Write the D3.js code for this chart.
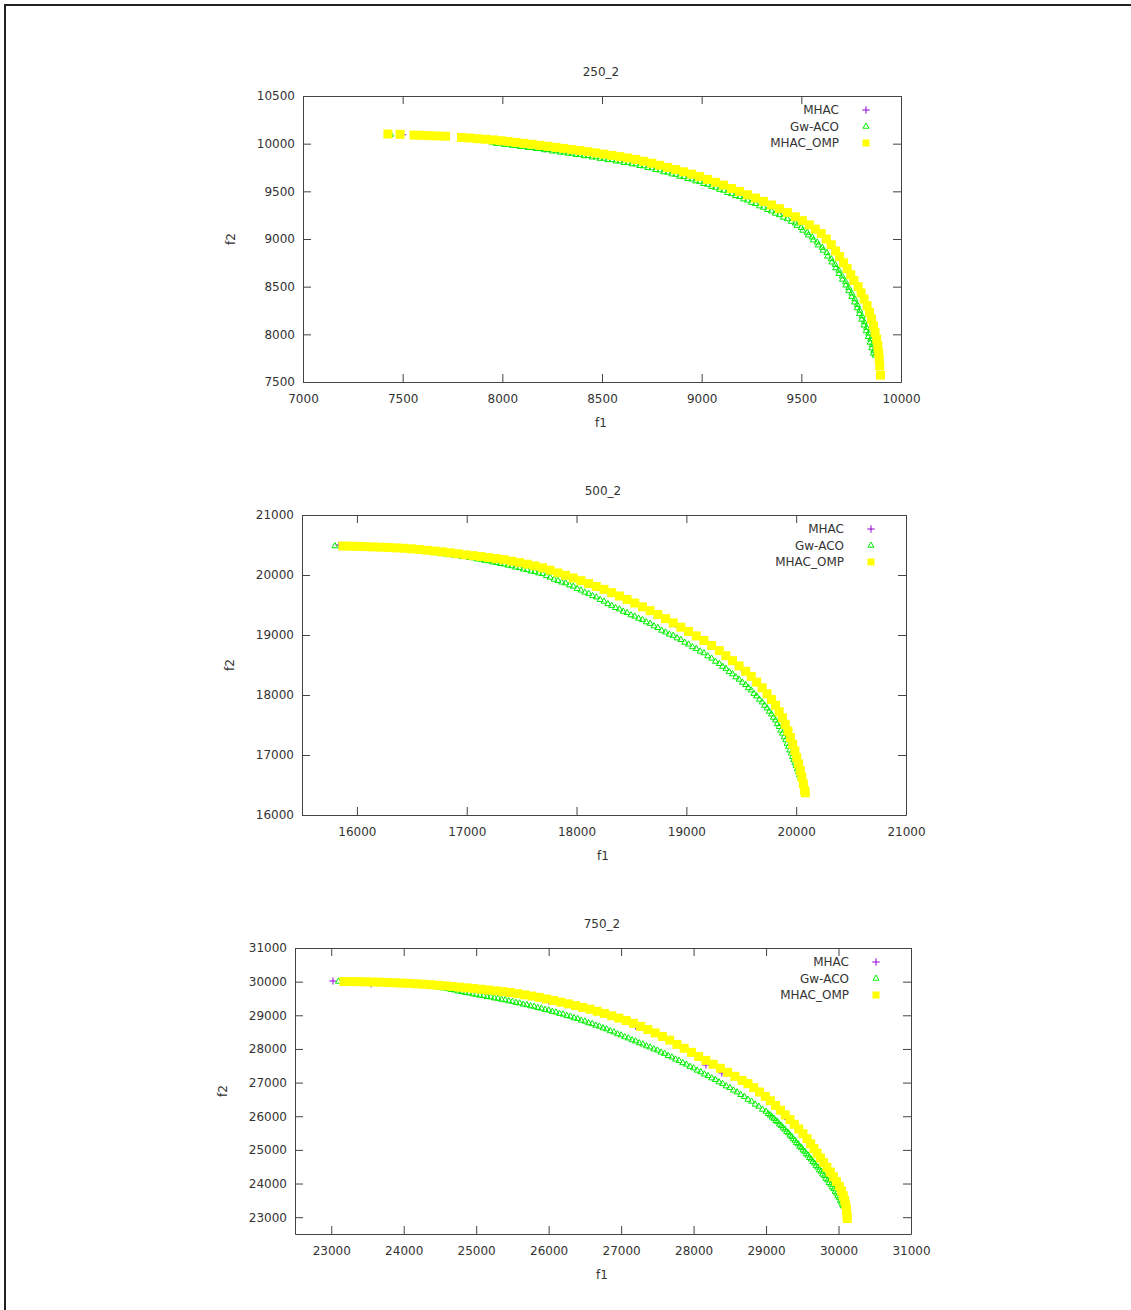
<!DOCTYPE html>
<html lang="en">
<head>
<meta charset="utf-8">
<style>
  body { margin: 0; background: #fff; }
  svg text { font-family: "DejaVu Sans", Verdana, sans-serif; font-size: 12px; fill: #333; }
</style>
<script src="https://cdn.jsdelivr.net/npm/d3@7"></script>
</head>
<body>
<script>
// ---- values ----
const titles = ["250_2", "500_2", "750_2"];
const seriesNames = ["MHAC", "Gw-ACO", "MHAC_OMP"];

const xTicks1 = [7000, 7500, 8000, 8500, 9000, 9500, 10000];
const yTicks1 = [7500, 8000, 8500, 9000, 9500, 10000, 10500];
const xTicks2 = [16000, 17000, 18000, 19000, 20000, 21000];
const yTicks2 = [16000, 17000, 18000, 19000, 20000, 21000];
const xTicks3 = [23000, 24000, 25000, 26000, 27000, 28000, 29000, 30000, 31000];
const yTicks3 = [23000, 24000, 25000, 26000, 27000, 28000, 29000, 30000, 31000];

// 250_2
const mhac1 = [[7500,10093],[8214,9944],[8600,9850],[9100,9560],[9400,9300],[9650,8930],[9800,8430],[9860,8120]];
const gwaco1 = [[7440,10096],[7560,10085],[7700,10072],[7850,10050],[7950,10012],[7970,10000],[7990,10003],[8010,9990],
  [8030,9992],[8050,9980],[8070,9981],[8090,9968],[8110,9970],[8130,9957],[8150,9958],[8170,9946],[8190,9947],
  [8210,9934],[8230,9935],[8250,9921],[8270,9922],[8290,9909],[8310,9910],[8330,9897],[8350,9898],[8370,9884],
  [8390,9886],[8410,9871],[8430,9873],[8450,9858],[8470,9859],[8490,9844],[8510,9845],[8530,9830],[8550,9831],
  [8570,9816],[8590,9817],[8610,9801],[8630,9802],[8650,9786],[8670,9785],[8690,9768],[8710,9765],[8730,9747],
  [8750,9744],[8770,9726],[8790,9722],[8810,9703],[8830,9699],[8850,9680],[8870,9676],[8890,9656],[8910,9652],
  [8930,9632],[8950,9627],[8970,9607],[8990,9602],[9010,9580],[9030,9571],[9050,9550],[9070,9540],[9090,9518],
  [9110,9509],[9130,9485],[9150,9473],[9170,9452],[9190,9442],[9210,9418],[9230,9405],[9250,9382],[9270,9369],
  [9290,9345],[9310,9331],[9330,9307],[9350,9292],[9370,9268],[9390,9252],[9410,9226],[9430,9210],[9450,9182],
  [9470,9165],[9478,9140],[9500,9118],[9507,9090],[9530,9068],[9535,9040],[9555,9018],[9560,8988],[9580,8965],
  [9585,8935],[9605,8910],[9609,8880],[9628,8855],[9632,8818],[9650,8790],[9653,8756],[9670,8730],[9672,8695],
  [9688,8670],[9689,8636],[9705,8610],[9706,8576],[9722,8550],[9723,8515],[9738,8490],[9738,8456],[9753,8430],
  [9753,8395],[9768,8370],[9767,8336],[9781,8310],[9780,8276],[9793,8250],[9792,8215],[9805,8190],[9803,8156],
  [9816,8130],[9814,8095],[9827,8070],[9825,8035],[9838,8010],[9836,7975],[9848,7950],[9845,7915],[9856,7890],
  [9853,7855],[9864,7830],[9861,7800],[9870,7780]];
const omp1 = [[7426,10101],[7487,10098],[7557,10090],[7595,10087],[7635,10084],[7675,10081],[7715,10078],
  [7795,10065],[7835,10060],[7875,10052],[7915,10046],[7955,10039],[7995,10031],[8030,10023],[8070,10013],
  [8110,10003],[8150,9993],[8190,9982],[8230,9972],[8270,9961],[8310,9950],[8350,9939],[8390,9928],[8430,9916],
  [8470,9903],[8510,9890],[8550,9877],[8590,9864],[8630,9850],[8670,9834],[8710,9815],[8750,9795],[8790,9773],
  [8830,9750],[8870,9728],[8910,9705],[8950,9680],[8990,9655],[9030,9625],[9070,9595],[9110,9565],[9150,9530],
  [9190,9498],[9230,9464],[9270,9430],[9310,9394],[9350,9357],[9390,9318],[9430,9277],[9470,9233],[9505,9192],
  [9540,9148],[9570,9104],[9600,9058],[9625,9000],[9650,8940],[9672,8875],[9692,8815],[9712,8750],[9730,8690],
  [9748,8625],[9764,8565],[9785,8500],[9800,8435],[9815,8370],[9830,8300],[9842,8230],[9852,8160],[9862,8090],
  [9870,8020],[9878,7950],[9884,7880],[9888,7810],[9891,7740],[9893,7670],[9897,7572]];

// 500_2
const mhac2 = [[15837,20500],[16600,20418],[17300,20262],[18200,19790],[18900,19180],[19500,18450],[19850,17700],[20030,16900]];
const gwaco2 = [[15800,20483],[16000,20470],[16100,20462],[16175,20452],[16250,20450],[16325,20438],[16400,20435],
  [16450,20422],[16500,20420],[16550,20405],[16600,20400],[16650,20385],[16700,20380],[16740,20365],[16780,20360],
  [16815,20345],[16850,20340],[16885,20326],[16920,20322],[16955,20308],[16990,20305],[17025,20288],[17060,20282],
  [17095,20265],[17130,20258],[17165,20240],[17200,20232],[17235,20213],[17270,20205],[17305,20187],[17340,20180],
  [17375,20160],[17410,20150],[17445,20128],[17480,20118],[17515,20096],[17550,20085],[17585,20062],[17620,20052],
  [17655,20030],[17690,20020],[17725,19985],[17760,19960],[17795,19926],[17830,19905],[17865,19878],[17900,19865],
  [17935,19830],[17970,19810],[18005,19770],[18040,19745],[18075,19710],[18110,19690],[18145,19652],[18180,19630],
  [18215,19588],[18250,19560],[18285,19518],[18320,19490],[18355,19453],[18390,19430],[18425,19392],[18460,19370],
  [18495,19333],[18530,19310],[18565,19275],[18600,19255],[18635,19215],[18670,19190],[18705,19148],[18740,19120],
  [18775,19075],[18810,19045],[18845,19010],[18880,18990],[18915,18948],[18950,18920],[18985,18875],[19020,18845],
  [19055,18800],[19090,18770],[19125,18728],[19160,18700],[19195,18648],[19230,18610],[19265,18558],[19300,18520],
  [19330,18475],[19360,18440],[19390,18388],[19420,18350],[19450,18298],[19480,18260],[19510,18208],[19540,18170],
  [19565,18118],[19590,18080],[19615,18022],[19640,17980],[19665,17925],[19690,17880],[19712,17825],[19735,17780],
  [19755,17725],[19775,17680],[19793,17625],[19812,17580],[19828,17520],[19845,17470],[19860,17410],[19875,17360],
  [19890,17300],[19905,17250],[19917,17190],[19930,17140],[19942,17080],[19955,17030],[19966,16970],[19978,16920],
  [19988,16865],[20000,16820],[20010,16765],[20020,16720],[20030,16665],[20040,16620]];
const omp2 = [[15873,20483],[15940,20480],[16010,20477],[16080,20473],[16150,20468],[16220,20463],[16290,20458],
  [16360,20452],[16430,20445],[16500,20436],[16570,20425],[16640,20412],[16710,20399],[16780,20385],[16850,20370],
  [16920,20354],[16990,20337],[17060,20322],[17130,20307],[17200,20290],[17270,20274],[17340,20255],[17410,20231],
  [17480,20206],[17550,20180],[17620,20152],[17690,20120],[17760,20080],[17830,20035],[17900,19995],[17970,19950],
  [18040,19905],[18110,19857],[18180,19808],[18250,19760],[18320,19705],[18390,19650],[18460,19592],[18530,19532],
  [18600,19470],[18670,19405],[18740,19340],[18810,19272],[18880,19202],[18950,19130],[19020,19058],[19090,18985],
  [19160,18908],[19230,18825],[19300,18740],[19360,18655],[19420,18572],[19480,18485],[19540,18395],[19590,18310],
  [19640,18215],[19690,18120],[19735,18020],[19775,17925],[19812,17830],[19845,17720],[19875,17620],[19900,17510],
  [19925,17400],[19948,17290],[19968,17180],[19988,17070],[20005,16960],[20022,16850],[20038,16740],[20052,16630],
  [20065,16520],[20076,16410],[20083,16370]];

// 750_2
const mhac3 = [[23024,30019],[23550,29930],[24500,29890],[26000,29430],[27200,28680],[28170,27523],[28390,27285],[29300,25900],[29800,24550]];
const gwaco3 = [[23100,30005],[23200,30002],[23300,30000],[23400,29996],[23500,29990],[23600,29982],[23700,29974],
  [23800,29965],[23900,29950],[24000,29938],[24100,29922],[24200,29905],[24250,29888],[24300,29885],[24350,29865],
  [24400,29860],[24450,29838],[24500,29830],[24550,29805],[24600,29795],[24650,29762],[24700,29745],[24750,29715],
  [24800,29700],[24850,29672],[24900,29660],[24950,29630],[25000,29615],[25050,29590],[25100,29578],[25150,29550],
  [25200,29540],[25250,29510],[25300,29498],[25350,29468],[25400,29455],[25450,29422],[25500,29408],[25550,29375],
  [25600,29360],[25650,29325],[25700,29310],[25750,29275],[25800,29260],[25850,29222],[25900,29205],[25950,29168],
  [26000,29150],[26050,29110],[26100,29090],[26150,29050],[26200,29030],[26250,28988],[26300,28965],[26350,28920],
  [26400,28895],[26450,28848],[26500,28820],[26550,28772],[26600,28745],[26650,28698],[26700,28670],[26750,28620],
  [26800,28590],[26850,28535],[26900,28500],[26950,28445],[27000,28410],[27050,28355],[27100,28320],[27150,28265],
  [27200,28230],[27250,28175],[27300,28140],[27350,28085],[27400,28050],[27450,27995],[27500,27960],[27550,27900],
  [27600,27860],[27650,27798],[27700,27755],[27750,27692],[27800,27650],[27850,27585],[27900,27540],[27950,27475],
  [28000,27430],[28050,27362],[28100,27315],[28150,27248],[28200,27200],[28250,27132],[28300,27085],[28350,27015],
  [28400,26965],[28450,26895],[28500,26845],[28550,26770],[28600,26715],[28650,26638],[28700,26580],[28750,26498],
  [28800,26440],[28850,26352],[28900,26290],[28950,26200],[29000,26140],[29030,26072],[29060,26030],[29085,25968],
  [29110,25930],[29135,25866],[29160,25830],[29185,25760],[29210,25720],[29235,25650],[29260,25610],[29285,25540],
  [29310,25500],[29330,25432],[29355,25390],[29375,25322],[29400,25280],[29420,25210],[29445,25170],[29465,25100],
  [29490,25060],[29510,24990],[29535,24950],[29555,24878],[29580,24840],[29600,24765],[29625,24720],[29645,24645],
  [29670,24600],[29690,24525],[29715,24480],[29735,24400],[29760,24360],[29780,24275],[29805,24230],[29825,24150],
  [29850,24100],[29870,24020],[29895,23970],[29913,23890],[29935,23840],[29953,23760],[29975,23710],[29990,23630],
  [30010,23580],[30024,23500],[30040,23450],[30052,23380],[30065,23330]];
const omp3 = [[23176,30004],[23270,30002],[23370,30000],[23470,29996],[23570,29990],[23670,29983],[23770,29976],
  [23870,29968],[23970,29958],[24070,29948],[24170,29937],[24270,29924],[24370,29909],[24470,29893],[24570,29876],
  [24670,29857],[24770,29836],[24870,29815],[24970,29795],[25070,29773],[25170,29750],[25270,29727],[25370,29702],
  [25470,29676],[25570,29643],[25670,29608],[25770,29572],[25870,29533],[25970,29486],[26070,29440],[26170,29390],
  [26270,29340],[26370,29287],[26470,29235],[26570,29180],[26670,29120],[26770,29055],[26870,28985],[26970,28915],
  [27070,28845],[27170,28760],[27270,28670],[27370,28575],[27470,28475],[27570,28370],[27670,28262],[27770,28135],
  [27870,28020],[27970,27900],[28070,27775],[28170,27660],[28270,27545],[28370,27425],[28470,27305],[28570,27185],
  [28670,27065],[28750,26970],[28830,26850],[28910,26720],[28990,26590],[29060,26460],[29130,26320],[29200,26180],
  [29265,26040],[29330,25900],[29390,25760],[29450,25620],[29510,25480],[29565,25330],[29615,25180],[29660,25040],
  [29705,24900],[29750,24760],[29795,24620],[29840,24480],[29885,24340],[29930,24200],[29970,24060],[30010,23920],
  [30040,23780],[30065,23640],[30085,23500],[30100,23360],[30110,23220],[30116,23080],[30120,22960]];

// ---- layout ----
const panels = [
  {title: titles[0], left: 303, right: 901, top: 96, bottom: 382, xDom: [7000, 10000], yDom: [7500, 10500],
   xTicks: xTicks1, yTicks: yTicks1, series: [mhac1, gwaco1, omp1]},
  {title: titles[1], left: 302, right: 906, top: 515, bottom: 815, xDom: [15500, 21000], yDom: [16000, 21000],
   xTicks: xTicks2, yTicks: yTicks2, series: [mhac2, gwaco2, omp2]},
  {title: titles[2], left: 295, right: 911, top: 948, bottom: 1234, xDom: [22500, 31000], yDom: [22500, 31000],
   xTicks: xTicks3, yTicks: yTicks3, series: [mhac3, gwaco3, omp3]}
];

const colors = ["#9400d3", "#00f000", "#ffff00"];
const symPlus = d3.symbolPlus || d3.symbolCross;
const symTri = d3.symbolTriangle2 || d3.symbolTriangle;
const markers = [
  d3.symbol().type(symPlus).size(18),
  d3.symbol().type(symTri).size(26),
  d3.symbol().type(d3.symbolSquare).size(81)
];
const legendMarkers = [
  d3.symbol().type(symPlus).size(20),
  d3.symbol().type(symTri).size(26),
  d3.symbol().type(d3.symbolSquare).size(49)
];

function styleMarker(sel, i) {
  if (i === 2) {
    sel.attr("fill", colors[i]).attr("stroke", "none");
  } else {
    sel.attr("fill", "none").attr("stroke", colors[i]).attr("stroke-width", 1);
  }
}

const svg = d3.select("body").append("svg")
  .attr("width", 1131)
  .attr("height", 1310);

svg.append("rect").attr("width", 1131).attr("height", 1310).attr("fill", "#fff");

// page border (only top and left edges are inside the picture)
svg.append("path")
  .attr("d", "M5,1312V5H1133")
  .attr("fill", "none")
  .attr("stroke", "#222")
  .attr("stroke-width", 2);

const fmt = d3.format("d");

panels.forEach(p => {
  const x = d3.scaleLinear().domain(p.xDom).range([p.left, p.right]);
  const y = d3.scaleLinear().domain(p.yDom).range([p.bottom, p.top]);

  const g = svg.append("g");

  // axes, ticks on all four sides pointing inward
  const bottomAx = g.append("g").attr("transform", `translate(0,${p.bottom})`)
    .call(d3.axisBottom(x).tickValues(p.xTicks).tickFormat(fmt).tickSizeInner(-8).tickSizeOuter(0).tickPadding(12));
  const leftAx = g.append("g").attr("transform", `translate(${p.left},0)`)
    .call(d3.axisLeft(y).tickValues(p.yTicks).tickFormat(fmt).tickSizeInner(-8).tickSizeOuter(0).tickPadding(8));
  const topAx = g.append("g").attr("transform", `translate(0,${p.top})`)
    .call(d3.axisTop(x).tickValues(p.xTicks).tickFormat("").tickSizeInner(-8).tickSizeOuter(0));
  const rightAx = g.append("g").attr("transform", `translate(${p.right},0)`)
    .call(d3.axisRight(y).tickValues(p.yTicks).tickFormat("").tickSizeInner(-8).tickSizeOuter(0));

  [bottomAx, leftAx, topAx, rightAx].forEach(a => {
    a.attr("font-family", null).attr("font-size", null);
    a.selectAll("path, line").attr("stroke", "#444");
    a.selectAll("text").attr("fill", "#333");
  });

  // points: MHAC first, then Gw-ACO, MHAC_OMP on top
  p.series.forEach((data, i) => {
    g.append("g").selectAll("path")
      .data(data)
      .enter()
      .append("path")
      .attr("d", markers[i])
      .attr("transform", d => `translate(${x(d[0])},${y(d[1])})`)
      .call(styleMarker, i);
  });

  // title and axis labels
  g.append("text")
    .attr("x", (p.left + p.right) / 2 - 1)
    .attr("y", p.top - 20)
    .attr("text-anchor", "middle")
    .text(p.title);
  g.append("text")
    .attr("x", (p.left + p.right) / 2 - 1)
    .attr("y", p.bottom + 45)
    .attr("text-anchor", "middle")
    .text("f1");
  g.append("text")
    .attr("transform", `translate(${p.left - 68},${(p.top + p.bottom) / 2}) rotate(-90)`)
    .attr("text-anchor", "middle")
    .text("f2");

  // legend
  const legend = g.append("g");
  seriesNames.forEach((name, i) => {
    const cy = p.top + 14 + i * 16.5;
    legend.append("text")
      .attr("x", p.right - 62)
      .attr("y", cy + 4)
      .attr("text-anchor", "end")
      .text(name);
    legend.append("path")
      .attr("d", legendMarkers[i])
      .attr("transform", `translate(${p.right - 35},${cy})`)
      .call(styleMarker, i);
  });
});
</script>
</body>
</html>
